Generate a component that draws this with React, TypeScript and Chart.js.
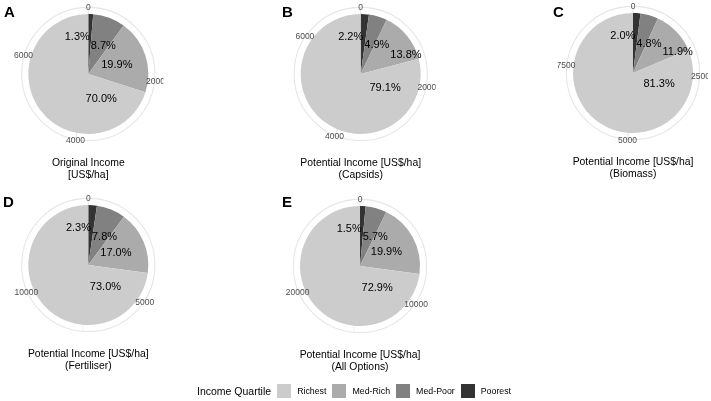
import React, { useEffect, useRef } from "react";
import { Chart, registerables } from "chart.js";

Chart.register(...registerables);

const W = 711;
const H = 401;
const FONT = '"Liberation Sans", Arial, Helvetica, sans-serif';

// ---------- data ----------
const categories = ["Poorest", "Med-Poor", "Med-Rich", "Richest"];
const legendOrder = ["Richest", "Med-Rich", "Med-Poor", "Poorest"];
const quartileColors = ["#333333", "#818181", "#ababab", "#cccccc"];
const legendTitle = "Income Quartile";

const incomeA = [98, 657, 1502, 5285];
const incomeB = [156, 348, 980, 5616];
const incomeC = [195, 468, 1160, 7927];
const incomeD = [336, 1139, 2482, 10643];
const incomeE = [437, 1659, 5791, 21213];

const shareA = ["1.3%", "8.7%", "19.9%", "70.0%"];
const shareB = ["2.2%", "4.9%", "13.8%", "79.1%"];
const shareC = ["2.0%", "4.8%", "11.9%", "81.3%"];
const shareD = ["2.3%", "7.8%", "17.0%", "73.0%"];
const shareE = ["1.5%", "5.7%", "19.9%", "72.9%"];

const ticksA = [0, 2000, 4000, 6000];
const ticksB = [0, 2000, 4000, 6000];
const ticksC = [0, 2500, 5000, 7500];
const ticksD = [0, 5000, 10000];
const ticksE = [0, 10000, 20000];

const titleA = ["Original Income", "[US$/ha]"];
const titleB = ["Potential Income [US$/ha]", "(Capsids)"];
const titleC = ["Potential Income [US$/ha]", "(Biomass)"];
const titleD = ["Potential Income [US$/ha]", "(Fertiliser)"];
const titleE = ["Potential Income [US$/ha]", "(All Options)"];

const panelLetters = ["A", "B", "C", "D", "E"];

// ---------- layout (positions only) ----------
const R = 60; // pie radius
const layout = [
  { cx: 88.3, cy: 74, lx: 4, ly: 17.3 },
  { cx: 360.7, cy: 74, lx: 282, ly: 17.3 },
  { cx: 633, cy: 73, lx: 553, ly: 17.3 },
  { cx: 88.3, cy: 265, lx: 3, ly: 206.5 },
  { cx: 360, cy: 266, lx: 282, ly: 207 },
];

const panels = [
  { values: incomeA, shares: shareA, ticks: ticksA, title: titleA },
  { values: incomeB, shares: shareB, ticks: ticksB, title: titleB },
  { values: incomeC, shares: shareC, ticks: ticksC, title: titleC },
  { values: incomeD, shares: shareD, ticks: ticksD, title: titleD },
  { values: incomeE, shares: shareE, ticks: ticksE, title: titleE },
];

const polarPanelPlugin = {
  id: "polarPanel",
  beforeDatasetsDraw(chart: any, _args: any, opts: any) {
    const ctx = chart.ctx;
    const arc = chart.getDatasetMeta(0).data[0];
    if (!arc) return;
    const { x, y, outerRadius } = arc.getProps(["x", "y", "outerRadius"], true);
    const ringR = outerRadius * 1.11;
    const total = opts.values.reduce((a: number, b: number) => a + b, 0);
    const ticks: number[] = opts.ticks;
    const step = ticks.length > 1 ? ticks[1] - ticks[0] : total;
    ctx.save();
    // minor theta grid
    ctx.strokeStyle = "#ededed";
    ctx.lineWidth = 0.6;
    for (let v = step / 2; v < total; v += step) {
      const a = (v / total) * Math.PI * 2;
      ctx.beginPath();
      ctx.moveTo(x, y);
      ctx.lineTo(x + ringR * Math.sin(a), y - ringR * Math.cos(a));
      ctx.stroke();
    }
    // major theta grid
    ctx.strokeStyle = "#e6e6e6";
    ctx.lineWidth = 1.1;
    ticks.forEach((v) => {
      const a = (v / total) * Math.PI * 2;
      ctx.beginPath();
      ctx.moveTo(x, y);
      ctx.lineTo(x + ringR * Math.sin(a), y - ringR * Math.cos(a));
      ctx.stroke();
    });
    // outer circle
    ctx.beginPath();
    ctx.arc(x, y, ringR, 0, Math.PI * 2);
    ctx.stroke();
    ctx.restore();
  },
  afterDatasetsDraw(chart: any, _args: any, opts: any) {
    const ctx = chart.ctx;
    const meta = chart.getDatasetMeta(0);
    const first = meta.data[0];
    if (!first) return;
    const { x, y, outerRadius } = first.getProps(["x", "y", "outerRadius"], true);
    const total = opts.values.reduce((a: number, b: number) => a + b, 0);
    const labelR = outerRadius * 1.125;
    const half = outerRadius * 1.25;

    ctx.save();
    // theta tick labels (clipped to the square panel)
    ctx.beginPath();
    ctx.rect(x - half, y - half, half * 2, half * 2);
    ctx.clip();
    ctx.font = `8.5px ${FONT}`;
    ctx.fillStyle = "#4d4d4d";
    ctx.textAlign = "center";
    ctx.textBaseline = "middle";
    opts.ticks.forEach((v: number) => {
      const a = (v / total) * Math.PI * 2;
      ctx.fillText(String(v), x + labelR * Math.sin(a), y - labelR * Math.cos(a) + 0.8);
    });
    ctx.restore();

    // share labels: slice mid-angle (dominant slice: near its leading edge),
    // pushed sideways when they collide
    ctx.save();
    ctx.font = `11px ${FONT}`;
    ctx.fillStyle = "#000000";
    ctx.textBaseline = "middle";
    ctx.textAlign = "left";
    const placed: { l: number; r: number; t: number; b: number }[] = [];
    meta.data.forEach((el: any, i: number) => {
      const p = el.getProps(["startAngle", "endAngle"], true);
      const frac = opts.values[i] / total;
      const small = frac < 0.03;
      const dominant = frac > 0.5;
      const ang = dominant ? p.startAngle + Math.PI / 4 : (p.startAngle + p.endAngle) / 2;
      const r = outerRadius * (small ? 0.62 : dominant ? 0.47 : 0.5);
      const ax = x + r * Math.cos(ang);
      const ay = y + r * Math.sin(ang);
      const txt = opts.shares[i];
      const w = ctx.measureText(txt).width;
      let left = small ? ax - w : ax - w / 2;
      const top = ay - 5;
      const bottom = ay + 5;
      placed.forEach((q) => {
        if (top < q.b && bottom > q.t && left < q.r && left + w > q.l) {
          left = q.r + 1;
        }
      });
      placed.push({ l: left, r: left + w, t: top, b: bottom });
      ctx.fillText(txt, left, ay);
    });
    ctx.restore();

    // panel title (below)
    ctx.save();
    ctx.font = `10.4px ${FONT}`;
    ctx.fillStyle = "#000000";
    ctx.textAlign = "center";
    ctx.textBaseline = "middle";
    opts.title.forEach((line: string, i: number) => {
      ctx.fillText(line, x, y + 89.5 + i * 11.5);
    });
    ctx.restore();

    // panel letter
    ctx.save();
    ctx.font = `bold 15px ${FONT}`;
    ctx.fillStyle = "#000000";
    ctx.textAlign = "left";
    ctx.textBaseline = "alphabetic";
    ctx.fillText(opts.letter, opts.lx, opts.ly);
    ctx.restore();
  },
};

function PiePanel({ index }: { index: number }) {
  const ref = useRef<HTMLCanvasElement | null>(null);
  useEffect(() => {
    const canvas = ref.current;
    if (!canvas) return;
    const p = panels[index];
    const l = layout[index];
    const chart = new Chart(canvas, {
      type: "pie",
      data: {
        labels: categories,
        datasets: [
          {
            data: p.values,
            backgroundColor: quartileColors,
            borderWidth: 0,
            hoverOffset: 0,
          },
        ],
      },
      options: {
        animation: false,
        responsive: false,
        maintainAspectRatio: false,
        events: [],
        layout: {
          padding: {
            left: l.cx - R,
            top: l.cy - R,
            right: W - l.cx - R,
            bottom: H - l.cy - R,
          },
        },
        plugins: {
          legend: { display: false },
          tooltip: { enabled: false },
          title: { display: false },
          polarPanel: {
            values: p.values,
            shares: p.shares,
            ticks: p.ticks,
            title: p.title,
            letter: panelLetters[index],
            lx: l.lx,
            ly: l.ly,
          },
        } as any,
      },
      plugins: [polarPanelPlugin],
    });
    return () => chart.destroy();
  }, [index]);
  return (
    <canvas
      ref={ref}
      width={W}
      height={H}
      style={{ position: "absolute", left: 0, top: 0, width: W, height: H }}
    />
  );
}

function Legend() {
  const colorOf = (name: string) => quartileColors[categories.indexOf(name)];
  return (
    <div
      style={{
        position: "absolute",
        left: 197,
        top: 383,
        height: 16,
        display: "flex",
        alignItems: "center",
        fontFamily: FONT,
        color: "#000",
        whiteSpace: "nowrap",
      }}
    >
      <span style={{ fontSize: 10.5, marginRight: 6 }}>{legendTitle}</span>
      {legendOrder.map((name) => (
        <span key={name} style={{ display: "flex", alignItems: "center", marginRight: 6 }}>
          <span
            style={{
              display: "inline-block",
              width: 14,
              height: 14,
              background: colorOf(name),
              marginRight: 6,
            }}
          />
          <span style={{ fontSize: 8.8 }}>{name}</span>
        </span>
      ))}
    </div>
  );
}

export default function App() {
  return (
    <div
      style={{
        position: "absolute",
        left: 0,
        top: 0,
        width: W,
        height: H,
        background: "#ffffff",
        overflow: "hidden",
      }}
    >
      {panels.map((_, i) => (
        <PiePanel key={i} index={i} />
      ))}
      <Legend />
    </div>
  );
}
